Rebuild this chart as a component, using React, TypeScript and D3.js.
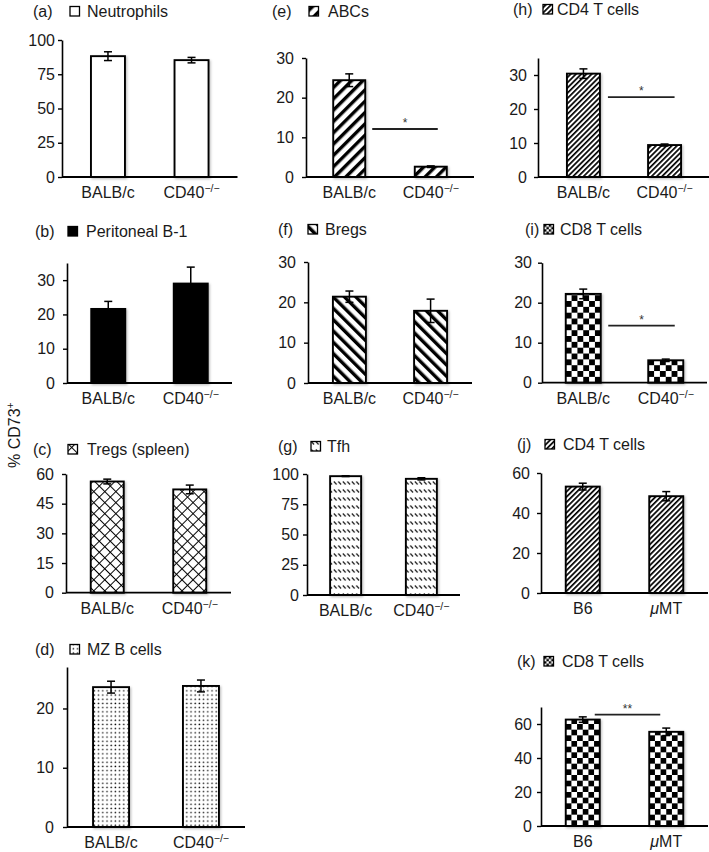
import React, { useEffect, useRef } from 'react';
import * as d3 from 'd3';

const W = 709;
const H = 852;
const FONT = '"Liberation Sans", Arial, Helvetica, sans-serif';
const INK = '#1a1a1a';

// x-axis groups
const cd40Groups = ['BALB/c', 'CD40-/-'];
const muMTGroups = ['B6', 'μMT'];

// % CD73+ means and error (SEM) per group
const neutrophilMeans = [88.2, 85.3];
const neutrophilErr = [3.2, 2.0];
const b1Means = [21.6, 29.0];
const b1Err = [2.2, 4.8];
const tregMeans = [56.2, 52.2];
const tregErr = [1.2, 2.2];
const mzbMeans = [23.6, 23.8];
const mzbErr = [1.0, 1.0];
const abcMeans = [24.4, 2.6];
const abcErr = [1.6, 0.2];
const bregMeans = [21.4, 17.9];
const bregErr = [1.4, 2.9];
const tfhMeans = [98.2, 96.0];
const tfhErr = [0.3, 0.9];
const cd4Means = [30.4, 9.4];
const cd4Err = [1.4, 0.3];
const cd8Means = [22.2, 5.6];
const cd8Err = [1.2, 0.3];
const cd4MuMeans = [53.2, 48.4];
const cd4MuErr = [1.7, 2.3];
const cd8MuMeans = [62.6, 55.4];
const cd8MuErr = [1.6, 2.2];

// y-axis tick labels
const ticks100 = [0, 25, 50, 75, 100];
const ticks30 = [0, 10, 20, 30];
const ticks60by15 = [0, 15, 30, 45, 60];
const ticks20 = [0, 10, 20];
const ticks60by20 = [0, 20, 40, 60];

const panels = [
  { tag: '(a)', title: 'Neutrophils', fill: 'empty', groups: cd40Groups, means: neutrophilMeans, errs: neutrophilErr,
    yMax: 100, ticks: ticks100, left: 62, right: 237.5, top: 40, bottom: 177, pad: 0.55, barW: 34, gap: 7,
    hx: 33, hy: 17, ix: 70, tx: 87 },
  { tag: '(b)', title: 'Peritoneal B-1', fill: 'solid', groups: cd40Groups, means: b1Means, errs: b1Err,
    yMax: 35, ticks: ticks30, left: 67, right: 232, top: 263, bottom: 383, pad: 0.5, barW: 34, gap: 12,
    hx: 35, hy: 237, ix: 68, tx: 86 },
  { tag: '(c)', title: 'Tregs (spleen)', fill: 'diamond', groups: cd40Groups, means: tregMeans, errs: tregErr,
    yMax: 60, ticks: ticks60by15, left: 66, right: 231, top: 474, bottom: 592.7, pad: 0.5, barW: 33, gap: 12,
    hx: 33, hy: 455, ix: 68, tx: 87 },
  { tag: '(d)', title: 'MZ B cells', fill: 'dots', groups: cd40Groups, means: mzbMeans, errs: mzbErr,
    yMax: 27, ticks: ticks20, left: 67, right: 245, top: 667, bottom: 827, pad: 0.49, barW: 36, gap: 13,
    hx: 35, hy: 655, ix: 70, tx: 87 },
  { tag: '(e)', title: 'ABCs', fill: 'wideUp', groups: cd40Groups, means: abcMeans, errs: abcErr,
    yMax: 30, ticks: ticks30, left: 306, right: 474, top: 58, bottom: 177, pad: 0.53, barW: 32, gap: 12,
    hx: 272, hy: 17, ix: 309, tx: 328, sig: { at: 12.1, from: 23, to: 7, mark: '*' } },
  { tag: '(f)', title: 'Bregs', fill: 'wideDown', groups: cd40Groups, means: bregMeans, errs: bregErr,
    yMax: 30, ticks: ticks30, left: 308, right: 472, top: 262, bottom: 383, pad: 0.51, barW: 33, gap: 12,
    hx: 278, hy: 235, ix: 308, tx: 325 },
  { tag: '(g)', title: 'Tfh', fill: 'dashDown', groups: cd40Groups, means: tfhMeans, errs: tfhErr,
    yMax: 100, ticks: ticks100, left: 307, right: 460, top: 474, bottom: 595, pad: 0.51, barW: 31, gap: 8,
    hx: 278, hy: 452, ix: 311, tx: 327 },
  { tag: '(h)', title: 'CD4 T cells', fill: 'narrowUp', groups: cd40Groups, means: cd4Means, errs: cd4Err,
    yMax: 35, ticks: ticks30, left: 538, right: 710, top: 58, bottom: 177, pad: 0.56, barW: 33, gap: 11,
    hx: 513, hy: 15, ix: 543, tx: 557, sig: { at: 23.5, from: 24.5, to: 10, mark: '*' } },
  { tag: '(i)', title: 'CD8 T cells', fill: 'checker', groups: cd40Groups, means: cd8Means, errs: cd8Err,
    yMax: 30, ticks: ticks30, left: 542, right: 707, top: 262.7, bottom: 382.7, pad: 0.5, barW: 35, gap: 10,
    hx: 525, hy: 235, ix: 544, tx: 560, sig: { at: 14.25, from: 25, to: 9, mark: '*' } },
  { tag: '(j)', title: 'CD4 T cells', fill: 'narrowUp', groups: muMTGroups, means: cd4MuMeans, errs: cd4MuErr,
    yMax: 60, ticks: ticks60by20, left: 541, right: 708, top: 473, bottom: 593, pad: 0.5, barW: 34, gap: 11,
    hx: 517, hy: 450, ix: 545, tx: 563 },
  { tag: '(k)', title: 'CD8 T cells', fill: 'checker', groups: muMTGroups, means: cd8MuMeans, errs: cd8MuErr,
    yMax: 70, ticks: ticks60by20, left: 541, right: 708, top: 707, bottom: 826, pad: 0.5, barW: 34, gap: 9,
    hx: 517, hy: 667, ix: 544, tx: 562, sig: { at: 65.5, from: 12, to: -6, mark: '**' } },
];

// builds a fill pattern, returns the fill string
function makeFill(defs: any, id: string, kind: string, ox = 0, oy = 0, cell = 5.7) {
  if (kind === 'empty') return '#fff';
  if (kind === 'solid') return '#000';
  const p = defs.append('pattern').attr('id', id).attr('patternUnits', 'userSpaceOnUse');
  const bg = (s: number, h = s) => p.append('rect').attr('width', s).attr('height', h).attr('fill', '#fff');
  if (kind === 'wideUp' || kind === 'wideDown' || kind === 'narrowUp') {
    const s = kind === 'narrowUp' ? 3.7 : 8;
    const t = kind === 'narrowUp' ? 1.7 : 3.4;
    p.attr('width', s).attr('height', s).attr('patternTransform', `rotate(${kind === 'wideDown' ? -45 : 45})`);
    bg(s);
    p.append('rect').attr('width', t).attr('height', s).attr('fill', '#000');
  } else if (kind === 'diamond') {
    const s = 7.8;
    p.attr('width', s).attr('height', s).attr('patternTransform', 'rotate(45)');
    bg(s);
    p.append('rect').attr('width', 1).attr('height', s).attr('fill', '#000');
    p.append('rect').attr('width', s).attr('height', 1).attr('fill', '#000');
  } else if (kind === 'dots') {
    const s = 4.2;
    p.attr('width', s).attr('height', s);
    bg(s);
    p.append('circle').attr('cx', 2).attr('cy', 2).attr('r', 0.8).attr('fill', '#111');
  } else if (kind === 'dashDown') {
    p.attr('width', 4.5).attr('height', 8);
    bg(4.5, 8);
    p.append('line').attr('x1', 0.8).attr('y1', 1.5).attr('x2', 3.6).attr('y2', 4.5)
      .attr('stroke', '#111').attr('stroke-width', 1.1);
  } else if (kind === 'checker') {
    p.attr('width', cell * 2).attr('height', cell * 2).attr('x', ox).attr('y', oy);
    bg(cell * 2);
    p.append('rect').attr('width', cell).attr('height', cell).attr('fill', '#000');
    p.append('rect').attr('x', cell).attr('y', cell).attr('width', cell).attr('height', cell).attr('fill', '#000');
  }
  return `url(#${id})`;
}

// category label with superscript / italic bits
function groupLabel(sel: any, name: string) {
  if (name.startsWith('CD40')) {
    sel.append('tspan').text('CD40');
    sel.append('tspan').attr('font-size', 10.5).attr('dy', -6).text('−/−');
  } else if (name === 'μMT') {
    sel.append('tspan').attr('font-style', 'italic').text('μ');
    sel.append('tspan').text('MT');
  } else {
    sel.text(name);
  }
}

export default function App() {
  const svgRef = useRef<SVGSVGElement>(null);

  useEffect(() => {
    const svg = d3.select(svgRef.current);
    svg.selectAll('*').remove();
    svg.attr('width', W).attr('height', H).attr('font-family', FONT);
    svg.append('rect').attr('width', W).attr('height', H).attr('fill', '#fff');

    const defs = svg.append('defs');
    const shadow = defs.append('filter').attr('id', 'bar-shadow')
      .attr('x', '-20%').attr('y', '-10%').attr('width', '150%').attr('height', '130%');
    shadow.append('feDropShadow').attr('dx', 1.2).attr('dy', 1.2).attr('stdDeviation', 1)
      .attr('flood-color', '#000').attr('flood-opacity', 0.25);

    panels.forEach((p: any, pi) => {
      const g = svg.append('g');
      const x = d3.scalePoint<string>().domain(p.groups).range([p.left, p.right]).padding(p.pad);
      const y = d3.scaleLinear().domain([0, p.yMax]).range([p.bottom, p.top]);

      // header: tag, legend swatch, title
      g.append('text').attr('x', p.hx).attr('y', p.hy).attr('font-size', 16).attr('fill', INK).text(p.tag);
      const iconFill = makeFill(defs, `icon-${pi}`, p.fill, p.ix, p.hy - 10.5, 2.4);
      g.append('rect').attr('x', p.ix).attr('y', p.hy - 10.5).attr('width', 9.5).attr('height', 9.5)
        .attr('fill', iconFill).attr('stroke', '#000').attr('stroke-width', 1.3);
      g.append('text').attr('x', p.tx).attr('y', p.hy).attr('font-size', 16).attr('fill', INK).text(p.title);

      // bars
      p.groups.forEach((grp: string, i: number) => {
        const cx = x(grp) as number;
        const v = p.means[i];
        const e = p.errs[i];
        const bx = cx - p.barW / 2;
        const fill = makeFill(defs, `bar-${pi}-${i}`, p.fill, bx, p.bottom, p.barW / 6);
        g.append('rect').attr('x', bx).attr('y', y(v)).attr('width', p.barW).attr('height', p.bottom - y(v))
          .attr('fill', fill).attr('stroke', '#000').attr('stroke-width', 1.9).attr('filter', 'url(#bar-shadow)');

        // error bar
        const eg = g.append('g').attr('stroke', '#000').attr('stroke-width', 1.5);
        eg.append('line').attr('x1', cx).attr('x2', cx).attr('y1', y(v + e)).attr('y2', y(v - e));
        [v + e, v - e].forEach(val => {
          eg.append('line').attr('x1', cx - 4).attr('x2', cx + 4).attr('y1', y(val)).attr('y2', y(val));
        });

        // category label
        const lbl = g.append('text').attr('x', cx).attr('y', p.bottom + 21).attr('text-anchor', 'middle')
          .attr('font-size', 16).attr('fill', INK);
        groupLabel(lbl, grp);
      });

      // significance line
      if (p.sig) {
        const x1 = (x(p.groups[0]) as number) + p.sig.from;
        const x2 = (x(p.groups[1]) as number) + p.sig.to;
        g.append('line').attr('x1', x1).attr('x2', x2).attr('y1', y(p.sig.at)).attr('y2', y(p.sig.at))
          .attr('stroke', '#222').attr('stroke-width', 1.8);
        g.append('text').attr('x', (x1 + x2) / 2).attr('y', y(p.sig.at) - 2).attr('text-anchor', 'middle')
          .attr('font-size', 12).attr('fill', '#333').text(p.sig.mark);
      }

      // y axis
      const ay = g.append('g').attr('transform', `translate(${p.left},0)`)
        .call(d3.axisLeft(y).tickValues(p.ticks).tickSize(4).tickSizeOuter(0).tickPadding(p.gap - 4));
      ay.attr('font-family', FONT).attr('font-size', 16);
      ay.select('.domain').attr('stroke', '#000').attr('stroke-width', 1.6);
      ay.selectAll('.tick line').attr('stroke', '#000').attr('stroke-width', 1.4);
      ay.selectAll('.tick text').attr('fill', INK);

      // x axis baseline
      g.append('line').attr('x1', p.left).attr('x2', p.right).attr('y1', p.bottom).attr('y2', p.bottom)
        .attr('stroke', '#000').attr('stroke-width', 1.8);
    });

    // shared y label
    const yl = svg.append('text').attr('transform', 'translate(19.5,468) rotate(-90)')
      .attr('font-size', 16).attr('fill', INK);
    yl.append('tspan').text('% CD73');
    yl.append('tspan').attr('font-size', 10.5).attr('dy', -6).text('+');
  }, []);

  return <svg ref={svgRef} style={{ position: 'absolute', left: 0, top: 0, display: 'block' }} />;
}
